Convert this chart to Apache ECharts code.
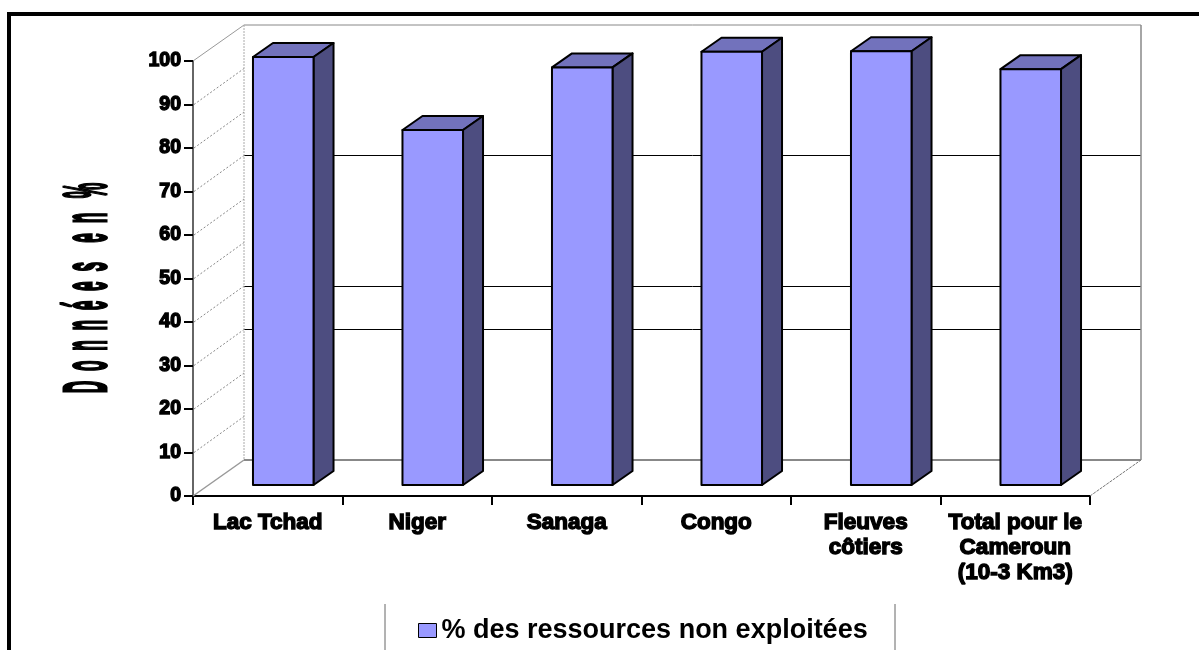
<!DOCTYPE html>
<html>
<head>
<meta charset="utf-8">
<style>
html, body { margin: 0; padding: 0; background: #fff; }
#main { width: 1199px; height: 650px; }
</style>
<script src="https://cdn.jsdelivr.net/npm/echarts@6/dist/echarts.min.js"></script>
</head>
<body>
<div id="main"></div>
<script>
var categories = ['Lac Tchad', 'Niger', 'Sanaga', 'Congo', 'Fleuves\ncôtiers', 'Total pour le\nCameroun\n(10-3 Km3)'];
var values = [98.4, 81.6, 96, 99.6, 99.7, 95.6];
var seriesName = '% des ressources non exploitées';
var darkGridValues = [30, 40, 70];
var wallTicks = [0, 10, 20, 30, 40, 50, 60, 70, 80, 90, 100];

var chart = echarts.init(document.getElementById('main'));

// fake 3d depth, px
var WALL_DX = 51, WALL_DY = -36;
var BAR_DX = 15.5, BAR_DY = -11;
var SIDE_DX = 20, SIDE_DY = -14;

function line(x1, y1, x2, y2, color, width, dash) {
    return {
        type: 'line',
        shape: { x1: x1, y1: y1, x2: x2, y2: y2 },
        style: { stroke: color, lineWidth: width, lineDash: dash || null }
    };
}

function renderWall(params, api) {
    var first = api.coord([0, 0]);
    var top = api.coord([0, 100]);
    var left = first[0] - api.size([1, 0])[0] / 2;
    var right = left + api.size([1, 0])[0] * categories.length;
    var bottom = first[1];
    var kids = [];
    wallTicks.forEach(function (t) {
        var y = api.coord([0, t])[1];
        if (t > 0 && t < 100) {
            kids.push(line(left + 1, y, left + WALL_DX, y + WALL_DY, '#888', 1, [2, 2]));
        }
    });
    darkGridValues.forEach(function (t) {
        // snap to a pixel row so the 1px line stays black
        var y = Math.floor(api.coord([0, t])[1] + WALL_DY) + 0.5;
        kids.push(line(left + WALL_DX, y, right + WALL_DX, y, '#000', 1));
    });
    kids.push(line(left, top[1], left + WALL_DX, top[1] + WALL_DY, '#999', 1));
    kids.push(line(left + WALL_DX, top[1] + WALL_DY, right + WALL_DX, top[1] + WALL_DY, '#888', 1));
    kids.push(line(left + WALL_DX, top[1] + WALL_DY, left + WALL_DX, bottom + WALL_DY, '#aaa', 1, [2, 1]));
    kids.push(line(right + WALL_DX, top[1] + WALL_DY, right + WALL_DX, bottom + WALL_DY, '#888', 1.5));
    kids.push(line(left + WALL_DX, bottom + WALL_DY, right + WALL_DX, bottom + WALL_DY, '#888', 2));
    kids.push(line(left, bottom, left + WALL_DX, bottom + WALL_DY, '#999', 1.5));
    kids.push(line(right, bottom, right + WALL_DX, bottom + WALL_DY, '#777', 1, [3, 1]));
    return { type: 'group', children: kids };
}

function renderBar(params, api) {
    var band = api.size([1, 0])[0];
    var w = band * 0.405;
    var base = api.coord([api.value(0), 0]);
    var end = api.coord([api.value(0), api.value(1)]);
    var x0 = base[0] - w / 2 + BAR_DX;
    var x1 = x0 + w;
    var y0 = base[1] + BAR_DY;
    var y1 = end[1] + BAR_DY;
    var edge = { stroke: '#000', lineWidth: 2, lineJoin: 'round' };
    return {
        type: 'group',
        children: [
            {
                type: 'polygon',
                shape: { points: [[x0, y1], [x0 + SIDE_DX, y1 + SIDE_DY], [x1 + SIDE_DX, y1 + SIDE_DY], [x1, y1]] },
                style: Object.assign({ fill: '#7272BC' }, edge)
            },
            {
                type: 'polygon',
                shape: { points: [[x1, y1], [x1 + SIDE_DX, y1 + SIDE_DY], [x1 + SIDE_DX, y0 + SIDE_DY], [x1, y0]] },
                style: Object.assign({ fill: '#4D4D80' }, edge)
            },
            {
                type: 'rect',
                shape: { x: x0, y: y1, width: w, height: y0 - y1 },
                style: Object.assign({ fill: '#9999FF' }, edge)
            }
        ]
    };
}

chart.setOption({
    animation: false,
    backgroundColor: '#fff',
    textStyle: { fontFamily: '"Liberation Sans", Arial, sans-serif' },
    grid: { left: 193, right: 109, top: 61, bottom: 154, containLabel: false },
    legend: {
        data: [{ name: seriesName, icon: 'rect', itemStyle: { color: '#9999FF', borderColor: '#000', borderWidth: 1 } }],
        left: 413,
        top: 617,
        padding: [0, 5],
        itemWidth: 18,
        itemHeight: 14,
        itemGap: 6,
        selectedMode: false,
        textStyle: { fontSize: 27, fontWeight: 'bold', color: '#000', fontFamily: '"Liberation Sans", Arial, sans-serif' }
    },
    xAxis: {
        type: 'category',
        data: categories,
        boundaryGap: true,
        axisLine: { lineStyle: { color: '#000', width: 2 } },
        axisTick: { show: true, length: 9, lineStyle: { color: '#000', width: 2 } },
        axisLabel: {
            margin: 14,
            interval: 0,
            fontSize: 22.5,
            fontWeight: 'bold',
            color: '#000',
            lineHeight: 25,
            textBorderColor: '#000',
            textBorderWidth: 1.4
        },
        splitLine: { show: false }
    },
    yAxis: {
        type: 'value',
        min: 0,
        max: 100,
        interval: 10,
        axisLine: { show: true, lineStyle: { color: '#666', width: 2 } },
        axisTick: { show: true, length: 9, lineStyle: { color: '#000', width: 2 } },
        axisLabel: {
            margin: 12,
            fontSize: 19.5,
            fontWeight: 'bold',
            color: '#000',
            textBorderColor: '#000',
            textBorderWidth: 1.4
        },
        splitLine: { show: false }
    },
    graphic: [
        { type: 'rect', shape: { x: 7, y: 12, width: 1192, height: 4 }, style: { fill: '#000' } },
        { type: 'rect', shape: { x: 7, y: 12, width: 4, height: 638 }, style: { fill: '#000' } },
        { type: 'line', shape: { x1: 385, y1: 604, x2: 385, y2: 650 }, style: { stroke: '#666', lineWidth: 1 } },
        { type: 'line', shape: { x1: 895, y1: 604, x2: 895, y2: 650 }, style: { stroke: '#666', lineWidth: 1 } },
        {
            type: 'text',
            x: 89,
            y: 288,
            rotation: Math.PI / 2,
            scaleX: 0.434,
            scaleY: 1.53,
            style: {
                text: 'D  o  n  n  é  e  s    e  n   %',
                font: 'bold 40px "Liberation Sans", Arial, sans-serif',
                fill: '#000',
                stroke: '#000',
                lineWidth: 2,
                textAlign: 'center',
                textVerticalAlign: 'middle'
            }
        }
    ],
    series: [
        {
            type: 'custom',
            name: 'wall',
            silent: true,
            clip: false,
            z: 1,
            renderItem: renderWall,
            data: [[0, 0]],
            tooltip: { show: false }
        },
        {
            type: 'custom',
            name: seriesName,
            clip: false,
            z: 3,
            renderItem: renderBar,
            itemStyle: { color: '#9999FF' },
            encode: { x: 0, y: 1 },
            data: values.map(function (v, i) { return [i, v]; })
        }
    ]
});
</script>
</body>
</html>
